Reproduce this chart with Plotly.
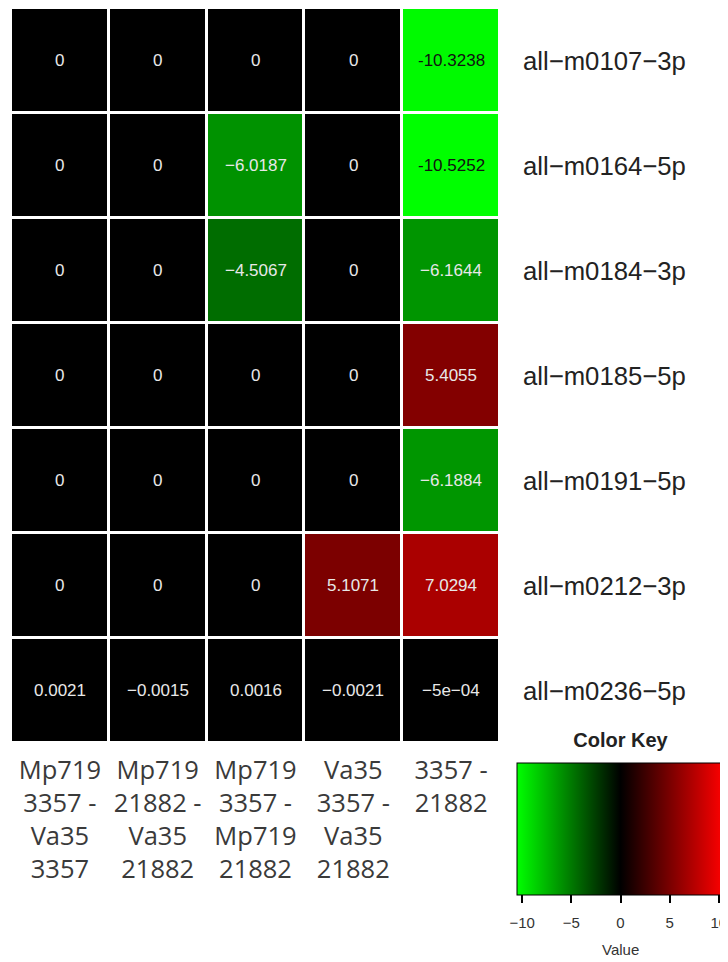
import plotly.graph_objects as go

# ---- data ----
row_labels = ["all-m0107-3p", "all-m0164-5p", "all-m0184-3p", "all-m0185-5p",
              "all-m0191-5p", "all-m0212-3p", "all-m0236-5p"]
col_labels = ["Mp719<br>3357 -<br>Va35<br>3357",
              "Mp719<br>21882 -<br>Va35<br>21882",
              "Mp719<br>3357 -<br>Mp719<br>21882",
              "Va35<br>3357 -<br>Va35<br>21882",
              "3357 -<br>21882"]
col_keys = ["c1", "c2", "c3", "c4", "c5"]

vals_m0107 = [0, 0, 0, 0, -10.3238]
vals_m0164 = [0, 0, -6.0187, 0, -10.5252]
vals_m0184 = [0, 0, -4.5067, 0, -6.1644]
vals_m0185 = [0, 0, 0, 0, 5.4055]
vals_m0191 = [0, 0, 0, 0, -6.1884]
vals_m0212 = [0, 0, 0, 5.1071, 7.0294]
vals_m0236 = [0.0021, -0.0015, 0.0016, -0.0021, -0.0005]

z = [vals_m0107, vals_m0164, vals_m0184, vals_m0185, vals_m0191, vals_m0212, vals_m0236]
key_ticks = [-10, -5, 0, 5, 10]

zmax = max(abs(v) for r in z for v in r)

def fmt(v):
    if v == 0:
        s = "0"
    elif abs(v) < 0.001:
        s = f"{v:.0e}"
    else:
        s = f"{v:.4f}".rstrip("0").rstrip(".")
    return s

# the page body adds an 8px margin, so the figure is made 8px smaller;
# layout positions below are given in page pixels and converted
OFF = 8
W, H = 728 - OFF, 962 - OFF
def px(x):
    return (x - OFF) / W
def py(y):
    return 1 - (y - OFF) / H

fig = go.Figure()
fig.add_trace(go.Heatmap(
    z=z, x=col_keys, y=row_labels,
    zmin=-zmax, zmax=zmax,
    colorscale=[[0, "#00FF00"], [0.5, "#000000"], [1, "#FF0000"]],
    xgap=3, ygap=3,
    hoverinfo="skip",
    colorbar=dict(
        orientation="h",
        x=px(517), xanchor="left",
        y=py(741), yanchor="top",
        len=207, lenmode="pixels",
        thickness=132, thicknessmode="pixels",
        xpad=0, ypad=0,
        outlinewidth=1, outlinecolor="#000000",
        tickmode="array", tickvals=key_ticks,
        ticktext=["<br><span style='font-size:15px'>" + str(t).replace("-", "\u2212") + "</span>"
                  for t in key_ticks],
        ticks="outside", ticklen=8, tickwidth=1.5, tickcolor="#000000",
        ticklabeloverflow="allow",
        tickfont=dict(family="Liberation Sans", size=10, color="#333333"),
        title=dict(text="Color Key", side="top",
                   font=dict(family="Liberation Sans", size=20, color="#222222", weight="bold")),
    ),
))

# cell value labels
for i, r in enumerate(row_labels):
    for j, c in enumerate(col_keys):
        v = z[i][j]
        bright = v < -8
        txt = fmt(v)
        if not bright:
            txt = txt.replace("-", "\u2212")
        fig.add_annotation(
            x=c, y=r, text=txt, showarrow=False,
            font=dict(family="Liberation Sans", size=17,
                      color="#111111" if bright else "#e8e8e8"),
        )

fig.add_annotation(
    x=px(620), y=py(949), xref="paper", yref="paper",
    xanchor="center", yanchor="middle",
    text="Value", showarrow=False,
    font=dict(family="Liberation Sans", size=15, color="#333333"),
)

fig.update_layout(
    width=W, height=H,
    margin=dict(l=0, r=0, t=0, b=0, autoexpand=False),
    paper_bgcolor="white", plot_bgcolor="white",
    xaxis=dict(
        domain=[px(11), px(500)],
        tickmode="array", tickvals=col_keys, ticktext=col_labels,
        showgrid=False, zeroline=False, showline=False, ticks="",
        tickfont=dict(family="Open Sans", size=25.5, color="#3a3a3a"),
        tickangle=0, ticklabelstandoff=9,
    ),
    yaxis=dict(
        domain=[py(743), py(8)],
        side="right", autorange="reversed",
        tickmode="array", tickvals=row_labels,
        ticktext=[r.replace("-", "\u2212") for r in row_labels],
        showgrid=False, zeroline=False, showline=False, ticks="",
        tickfont=dict(family="Liberation Sans", size=25.7, color="#222222"),
        ticklabelstandoff=22,
    ),
)

fig.write_html("out.html")
